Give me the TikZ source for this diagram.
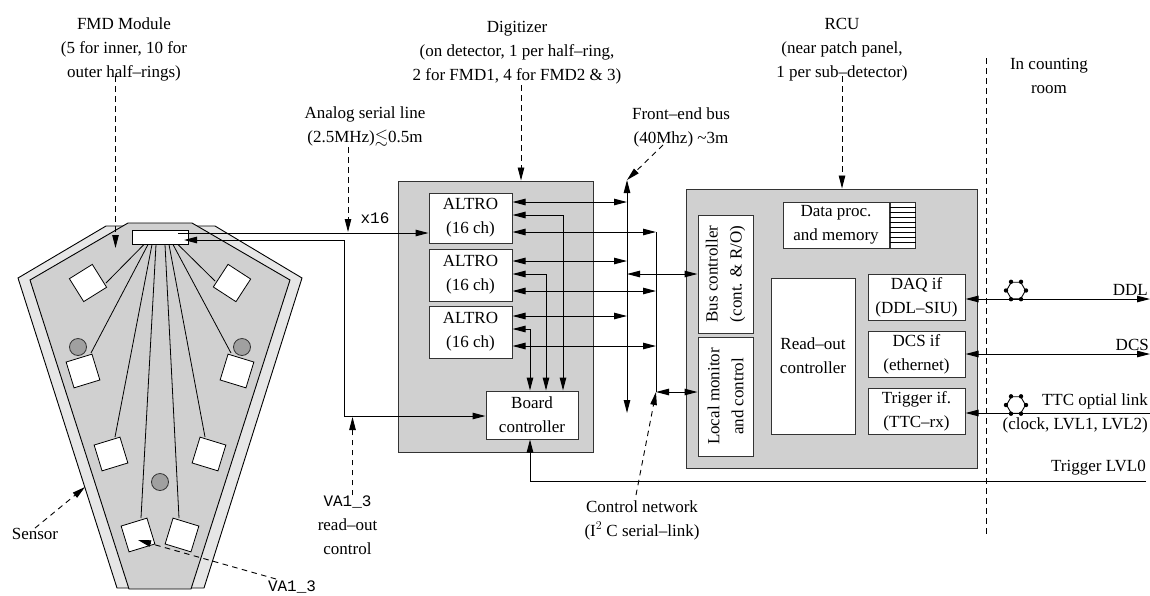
\documentclass[tikz,border=0pt]{standalone}
\usepackage{fontspec}
\setmainfont{Liberation Serif}
\setmonofont{Liberation Mono}
\usepackage{amssymb}
\usetikzlibrary{positioning, shapes.geometric, arrows.meta, calc}
\definecolor{fmdpanel}{HTML}{D0D0D0}
\definecolor{fmdsensor}{HTML}{E6E6E6}
\definecolor{fmdhole}{HTML}{A0A0A0}
\definecolor{fmdline}{HTML}{333333}
\tikzset{
  panel/.style={draw=fmdline, fill=fmdpanel, line width=1pt, inner sep=0pt},
  box/.style={draw=fmdline, fill=white, line width=1pt, inner sep=0pt, align=center, font=\fontsize{17}{24}\selectfont},
  chip/.style={draw=black, fill=white, line width=0.8pt, minimum size=27, inner sep=0pt},
  hole/.style={draw=fmdline, fill=fmdhole, circle, line width=0.8pt, minimum size=17, inner sep=0pt},
  txt/.style={inner sep=0pt, align=center, font=\fontsize{17}{24}\selectfont},
  mono/.style={inner sep=0pt, font=\fontsize{16}{24}\selectfont\ttfamily},
  wire/.style={line width=1pt},
  tip/.style={wire, -{Triangle[length=13,width=6.5]}},
  bus/.style={wire, {Triangle[length=13,width=6.5]}-{Triangle[length=13,width=6.5]}},
  hint/.style={line width=0.9pt, dash pattern=on 5.5pt off 4.5pt, -{Triangle[length=13,width=6.5]}},
  fiber/.style={draw=black, line width=0.9pt, regular polygon, regular polygon sides=6, minimum size=19, inner sep=0pt}
}
\begin{document}
\begin{tikzpicture}[x=1pt, y=-1pt]
        \useasboundingbox (0,0) rectangle (1150,595);
        % sensor
        \draw[fill=fmdsensor, line width=0.9pt] (106,226) -- (215,226) -- (302,278) -- (204,588) -- (117,588) -- (18,278) -- cycle;
        \draw[fill=fmdpanel, line width=0.9pt] (128,223) -- (192,223) -- (290,280) -- (191,589) -- (129,589) -- (30,280) -- cycle;
        \node[draw=black, fill=white, line width=1pt, minimum width=56, minimum height=14, inner sep=0pt] (fmd) at (160,237) {};
        \node[chip, rotate=32] (c1) at (88,283) {};
        \node[chip, rotate=17] (c2) at (83,371) {};
        \node[chip, rotate=17] (c3) at (111,454) {};
        \node[chip, rotate=17] (c4) at (138,535) {};
        \node[chip, rotate=-17] (c5) at (182,535) {};
        \node[chip, rotate=-17] (c6) at (209,454) {};
        \node[chip, rotate=-17] (c7) at (237,371) {};
        \node[chip, rotate=-33] (c8) at (232,283) {};
        \coordinate (t1) at (106,283);
        \coordinate (t2) at (91,353);
        \coordinate (t3) at (115,437);
        \coordinate (t4) at (141,518);
        \coordinate (t5) at (179,518);
        \coordinate (t6) at (205,437);
        \coordinate (t7) at (231,353);
        \coordinate (t8) at (215,281);
        \draw[line width=0.8pt] ([xshift=-16]fmd.south) -- (t1);
        \draw[line width=0.8pt] ([xshift=-12]fmd.south) -- (t2);
        \draw[line width=0.8pt] ([xshift=-8]fmd.south) -- (t3);
        \draw[line width=0.8pt] ([xshift=-4]fmd.south) -- (t4);
        \draw[line width=0.8pt] ([xshift=5]fmd.south) -- (t5);
        \draw[line width=0.8pt] ([xshift=9]fmd.south) -- (t6);
        \draw[line width=0.8pt] ([xshift=13]fmd.south) -- (t7);
        \draw[line width=0.8pt] ([xshift=18]fmd.south) -- (t8);
        \node[hole] (h1) at (78,347) {};
        \node[hole] (h2) at (242,347) {};
        \node[hole] (h3) at (160,482) {};
        % digitizer
        \node[panel, minimum width=195, minimum height=271] (dig) at (495.5,316.5) {};
        \node[box, minimum width=83, minimum height=50] (a1) at (470.5,218) {ALTRO\\(16 ch)};
        \node[box, minimum width=83, minimum height=52] (a2) at (470.5,275) {ALTRO\\(16 ch)};
        \node[box, minimum width=83, minimum height=52] (a3) at (470.5,332) {ALTRO\\(16 ch)};
        \node[box, minimum width=92, minimum height=48] (bc) at (532,415) {Board\\controller};
        % rcu
        \node[panel, minimum width=291, minimum height=279] (rcu) at (831.5,328.5) {};
        \node[box, minimum width=106, minimum height=46] (proc) at (836,225) {Data proc.\\and memory};
        \node[box, minimum width=25, minimum height=46, right=0pt of proc] (mem) {};
        \foreach \sy in {207,212,217,222,227,232,237,242}
          \draw[line width=0.8pt] (mem.west |- 0,\sy) -- (mem.east |- 0,\sy);
        \node[box, rotate=90, minimum width=118, minimum height=55] (busc) at (725.5,274) {Bus controller\\(cont. \& R/O)};
        \node[box, rotate=90, minimum width=119, minimum height=55] (mon) at (725.5,396.5) {Local monitor\\and control};
        \node[box, minimum width=84, minimum height=156] (roc) at (813,356) {Read–out\\controller};
        \node[box, minimum width=97, minimum height=46] (daq) at (916.5,297) {DAQ if\\(DDL–SIU)};
        \node[box, minimum width=97, minimum height=46] (dcs) at (916.5,354) {DCS if\\(ethernet)};
        \node[box, minimum width=97, minimum height=46] (trg) at (916.5,411) {Trigger if.\\(TTC–rx)};
        % buses
        \coordinate (busn) at (627,180);
        \coordinate (buss) at (627,413);
        \coordinate (ctln) at (656,232);
        \coordinate (ctls) at (656,392);
        \draw[bus] (busn) -- (buss);
        \draw[wire] (ctln) -- (ctls);
        \coordinate (p1) at (627,202);
        \coordinate (p2) at (627,261);
        \coordinate (p3) at (627,316);
        \coordinate (q2) at (656,291);
        \coordinate (q3) at (656,346);
        \draw[bus] (a1.east |- p1) -- (p1);
        \draw[bus] (a2.east |- p2) -- (p2);
        \draw[bus] (a3.east |- p3) -- (p3);
        \draw[bus] (a1.east |- ctln) -- (ctln);
        \draw[bus] (a2.east |- q2) -- (q2);
        \draw[bus] (a3.east |- q3) -- (q3);
        \coordinate (r1) at (563,215);
        \coordinate (r2) at (546,274);
        \coordinate (r3) at (530,329);
        \draw[bus] (a1.east |- r1) -- (r1) -- (r1 |- bc.north);
        \draw[bus] (a2.east |- r2) -- (r2) -- (r2 |- bc.north);
        \draw[bus] (a3.east |- r3) -- (r3) -- (r3 |- bc.north);
        \coordinate (s1) at (627,274);
        \draw[bus] (s1) -- (busc.north |- s1);
        \draw[bus] (ctls) -- (mon.north |- ctls);
        % front end
        \coordinate (fa) at (178,233);
        \coordinate (fe) at (184,240);
        \coordinate (fx) at (344,240);
        \coordinate (fy) at (344,416);
        \draw[tip] (fx) -- (fe);
        \draw[tip] (fy) -- (bc.west |- fy);
        \draw[wire] (fx) -- (fy);
        \draw[tip] (fa) -- (a1.west |- fa);
        \coordinate (lv0) at (1146,481);
        \coordinate (lv1) at (530,481);
        \draw[tip] (lv0) -- (lv1) -- (lv1 |- bc.south);
        \node[mono] (x16) at (375,218) {x16};
        % links
        \coordinate (ddl) at (1150,299);
        \coordinate (dcl) at (1150,354);
        \coordinate (ttc) at (1150,413);
        \draw[bus] (daq.east |- ddl) -- (ddl);
        \draw[bus] (dcs.east |- dcl) -- (dcl);
        \draw[tip] (ttc) -- (trg.east |- ttc);
        \node[fiber] (f1) at (1016,290.5) {};
        \node[fiber] (f2) at (1016,405) {};
        \fill (f1.corner 1) circle (2.2) (f1.corner 2) circle (2.2) (f1.corner 3) circle (2.2) (f1.corner 4) circle (2.2) (f1.corner 5) circle (2.2) (f1.corner 6) circle (2.2);
        \fill (f2.corner 1) circle (2.2) (f2.corner 2) circle (2.2) (f2.corner 3) circle (2.2) (f2.corner 4) circle (2.2) (f2.corner 5) circle (2.2) (f2.corner 6) circle (2.2);
        \node[txt, anchor=east] (tddl) at (1148,290) {DDL};
        \node[txt, anchor=east] (tdcs) at (1149,345) {DCS};
        \node[txt, anchor=east] (tttc) at (1148,401) {TTC optial link};
        \node[txt, anchor=east] (tclk) at (1148,425) {(clock, LVL1, LVL2)};
        \node[txt, anchor=east] (tlv0) at (1146,468) {Trigger LVL0};
        \coordinate (ctop) at (986,58);
        \coordinate (cbot) at (986,536);
        \draw[line width=0.9pt, dash pattern=on 5.5pt off 4.5pt] (ctop) -- (cbot);
        % labels
        \node[txt] (tfmd) at (124,49) {FMD Module\\(5 for inner, 10 for\\outer half–rings)};
        \node[txt] (tdig) at (517,53) {Digitizer\\(on detector, 1 per half–ring,\\2 for FMD1, 4 for FMD2 \& 3)};
        \node[txt] (tana) at (365,127) {Analog serial line\\(2.5MHz)$\lesssim$0.5m};
        \node[txt] (tfeb) at (681,127) {Front–end bus\\(40Mhz) \textasciitilde3m};
        \node[txt] (trcu) at (842,50) {RCU\\(near patch panel,\\1 per sub–detector)};
        \node[txt] (troom) at (1049,76) {In counting\\room};
        \node[txt] (tsen) at (35,534) {Sensor};
        \node[txt] (tctl) at (642,520) {Control network\\(I$^2$ C serial–link)};
        \node[txt] (tread) at (347.5,525) {\fontsize{16}{24}\selectfont\ttfamily VA1\_3\\read–out\\control};
        \node[mono, anchor=base] (tva) at (292,591) {VA1\_3};
        % pointers
        \coordinate (sfmd) at (115.5,76);
        \coordinate (pfmd) at (115.5,248);
        \coordinate (sdig) at (521,85);
        \coordinate (sana) at (348,147);
        \coordinate (pana) at (348,232);
        \coordinate (pfeb) at (663,145);
        \coordinate (srcu) at (842,76);
        \coordinate (pread) at (352.5,417);
        \coordinate (pctl) at (636,495);
        \coordinate (psen) at (85,487);
        \coordinate (pva) at (276,579);
        \coordinate (pchip) at (138,540);
        \draw[hint] (sfmd) -- (pfmd);
        \draw[hint] (sdig) -- (sdig |- dig.north);
        \draw[hint] (sana) -- (pana);
        \draw[hint] (pfeb) -- (busn);
        \draw[hint] (srcu) -- (srcu |- rcu.north);
        \draw[hint] ([xshift=5]tread.north) -- (pread);
        \draw[hint] (pctl) -- (ctls);
        \draw[hint] (tsen.north) -- (psen);
        \draw[hint] (pva) -- (pchip);
      \end{tikzpicture}
\end{document}
